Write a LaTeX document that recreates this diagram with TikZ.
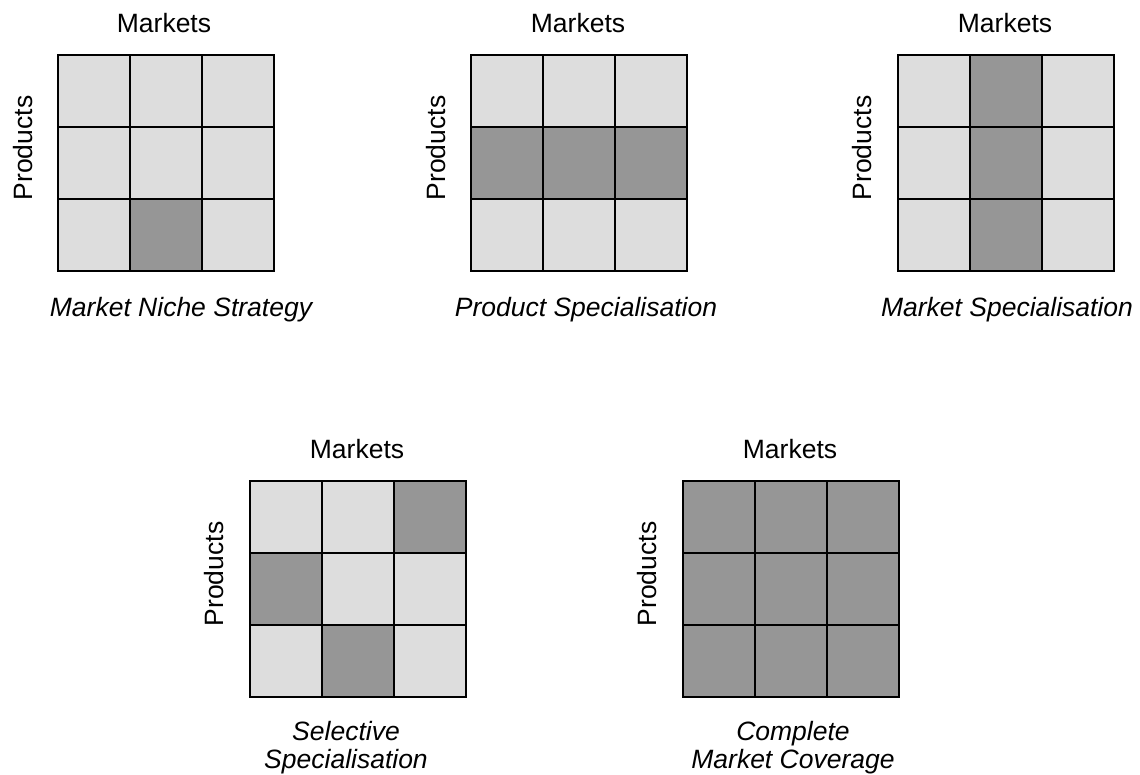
\documentclass[tikz,border=0pt]{standalone}
\usepackage{fontspec}
\setmainfont{Liberation Sans}
\definecolor{cl}{HTML}{DDDDDD}
\definecolor{cd}{HTML}{969696}
\tikzset{
  cell/.style={draw=black, line width=2pt, minimum size=72pt, inner sep=0pt, outer sep=0pt},
  lbl/.style={font=\fontsize{26.5}{28}\selectfont, inner sep=0pt},
  vlbl/.style={lbl, rotate=90},
  captxt/.style={font=\fontsize{26.5}{28}\selectfont\itshape, inner sep=0pt, align=center}
}
\newcommand\mgrid[4]{%
  \foreach \c [count=\i from 0] in {#4} {
    \pgfmathtruncatemacro\rr{int(\i/3)}
    \pgfmathtruncatemacro\kk{mod(\i,3)}
    \node[cell, fill=\c] (#1-\rr\kk) at ({#2+36+72*\kk},{#3+36+72*\rr}) {};
  }
}
\begin{document}
\begin{tikzpicture}[x=1pt,y=-1pt]
\useasboundingbox (0,0) rectangle (1140,774);
% grid 1
\mgrid{ga}{58}{55}{cl,cl,cl,cl,cl,cl,cl,cd,cl}
\node[lbl, anchor=base] (ga-m) at (164,32.5) {Markets};
\node[vlbl] (ga-p) at (23,148) {Products};
\node[captxt, anchor=base] (ga-c) at (181,316) {Market Niche Strategy};
% grid 2
\mgrid{gb}{471}{55}{cl,cl,cl,cd,cd,cd,cl,cl,cl}
\node[lbl, anchor=base] (gb-m) at (578,32.5) {Markets};
\node[vlbl] (gb-p) at (436,148) {Products};
\node[captxt, anchor=base] (gb-c) at (586,316) {Product Specialisation};
% grid 3
\mgrid{gc}{898}{55}{cl,cd,cl,cl,cd,cl,cl,cd,cl}
\node[lbl, anchor=base] (gc-m) at (1005,32.5) {Markets};
\node[vlbl] (gc-p) at (862,148) {Products};
\node[captxt, anchor=base] (gc-c) at (1007,316) {Market Specialisation};
% grid 4
\mgrid{gd}{250}{481}{cl,cl,cd,cd,cl,cl,cl,cd,cl}
\node[lbl, anchor=base] (gd-m) at (357,458) {Markets};
\node[vlbl] (gd-p) at (214,574) {Products};
\node[captxt, anchor=north] (gd-c) at (346,721) {Selective\\Specialisation};
% grid 5
\mgrid{ge}{683}{481}{cd,cd,cd,cd,cd,cd,cd,cd,cd}
\node[lbl, anchor=base] (ge-m) at (790,458) {Markets};
\node[vlbl] (ge-p) at (647,574) {Products};
\node[captxt, anchor=north] (ge-c) at (793,721) {Complete\\Market Coverage};
\end{tikzpicture}
\end{document}
